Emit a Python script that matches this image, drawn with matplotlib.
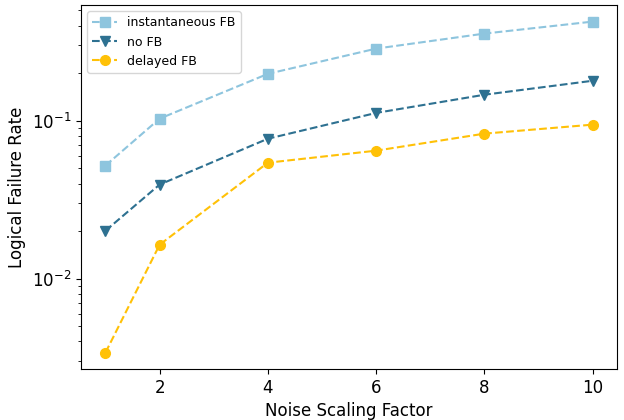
import matplotlib.pyplot as plt
import numpy as np

plt.rcParams.update({'font.size': 12})

noise_scale = [1, 2, 4, 6, 8, 10]
instant_fb = [0.052, 0.103, 0.198, 0.286, 0.356, 0.424]
no_fb = [0.0201, 0.0394, 0.0769, 0.112, 0.146, 0.179]
delayed_fb = [0.0034, 0.0164, 0.0542, 0.0646, 0.0828, 0.0944]

fig = plt.figure(figsize=(6.24, 4.2), dpi=100)
ax = fig.add_axes([0.13, 0.121, 0.859, 0.867])

ax.plot(noise_scale, instant_fb, ls='--', marker='s', ms=7, lw=1.5,
        color='#8ec5de', label='instantaneous FB')
ax.plot(noise_scale, no_fb, ls='--', marker='v', ms=7, lw=1.5,
        color='#2e7191', label='no FB')
ax.plot(noise_scale, delayed_fb, ls='--', marker='o', ms=7, lw=1.5,
        color='#ffc107', label='delayed FB')

ax.set_yscale('log')
ax.set_xticks([2, 4, 6, 8, 10])
ax.set_xlabel('Noise Scaling Factor')
ax.set_ylabel('Logical Failure Rate')
ax.legend(loc='upper left', fontsize=9)

fig.savefig('out.png', dpi=100)
